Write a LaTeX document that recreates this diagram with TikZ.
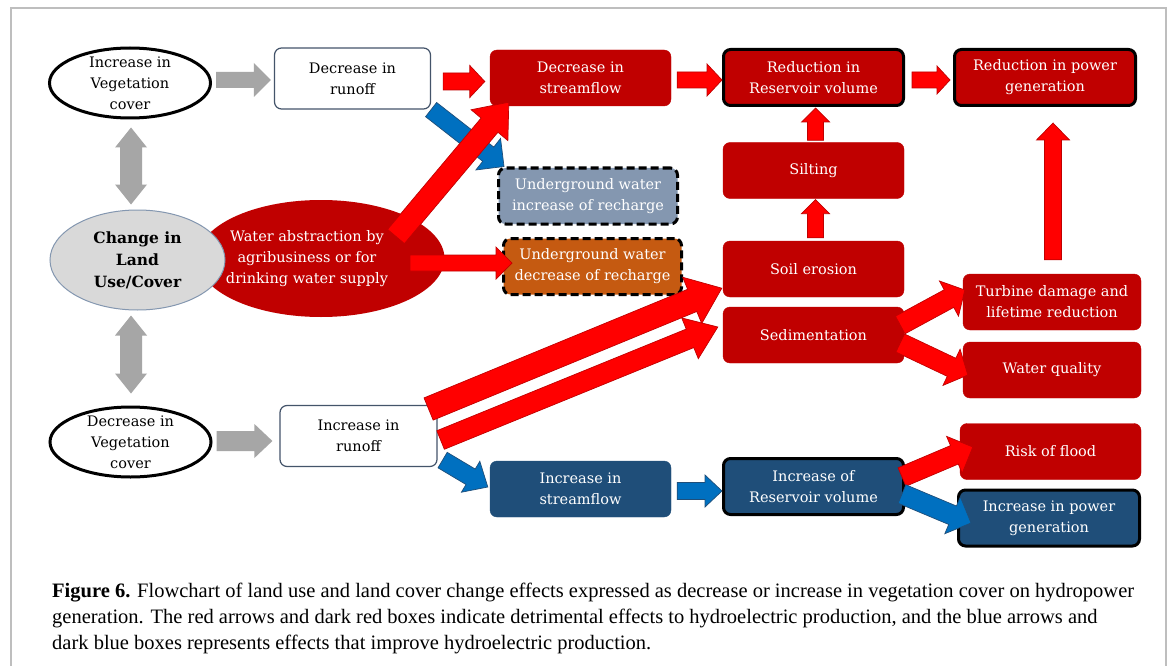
\documentclass[tikz,border=0pt]{standalone}
\usepackage{fontspec}
\setmainfont{DejaVu Serif}
\newfontfamily\capfont{Liberation Serif}
\usetikzlibrary{shapes.geometric,calc}
\definecolor{mydarkred}{RGB}{192,0,0}
\definecolor{myred}{RGB}{255,0,0}
\definecolor{mydarkblue}{RGB}{31,78,121}
\definecolor{myblue}{RGB}{0,112,192}
\definecolor{mygrayblue}{RGB}{132,151,176}
\definecolor{myorange}{RGB}{197,90,17}
\definecolor{mygray}{RGB}{166,166,166}
\definecolor{mylightgray}{RGB}{217,217,217}
\definecolor{myslate}{RGB}{68,84,106}
\definecolor{myframe}{RGB}{190,190,190}
\newcommand\boxfont{\fontsize{14.5}{21}\selectfont}
\newcommand\fatarrow[6][]{%
  \path (#2) coordinate (fa-a) (#3) coordinate (fa-b);
  \path ($(fa-b)!#6!(fa-a)$) coordinate (fa-n);
  \filldraw[#1] ($(fa-a)!#4!90:(fa-b)$) -- ($(fa-n)!#4!90:(fa-b)$)
    -- ($(fa-n)!#5!90:(fa-b)$) -- (fa-b) -- ($(fa-n)!#5!-90:(fa-b)$)
    -- ($(fa-n)!#4!-90:(fa-b)$) -- ($(fa-a)!#4!-90:(fa-b)$) -- cycle;}
\newcommand\dblarrow[6][]{%
  \path (#2) coordinate (fa-a) (#3) coordinate (fa-b);
  \path ($(fa-a)!#6!(fa-b)$) coordinate (fa-m) ($(fa-b)!#6!(fa-a)$) coordinate (fa-n);
  \filldraw[#1] (fa-a) -- ($(fa-m)!#5!90:(fa-b)$) -- ($(fa-m)!#4!90:(fa-b)$)
    -- ($(fa-n)!#4!-90:(fa-a)$) -- ($(fa-n)!#5!-90:(fa-a)$) -- (fa-b)
    -- ($(fa-n)!#5!90:(fa-a)$) -- ($(fa-n)!#4!90:(fa-a)$)
    -- ($(fa-m)!#4!-90:(fa-b)$) -- ($(fa-m)!#5!-90:(fa-b)$) -- cycle;}
\begin{document}
\begin{tikzpicture}[
  x=1pt, y=-1pt,
  box/.style={
    rectangle,
    rounded corners=7pt,
    inner sep=0pt,
    align=center,
    font=\boxfont,
    minimum width=181pt,
    minimum height=56pt
    },
  redbox/.style={box, fill=mydarkred, draw=mydarkred, text=white},
  bluebox/.style={box, fill=mydarkblue, draw=mydarkblue, text=white},
  whitebox/.style={
    box,
    fill=white,
    draw=myslate,
    line width=1.2pt,
    minimum width=156pt,
    minimum height=61pt
    },
  dashbox/.style={
    box,
    draw=black,
    line width=3pt,
    dash pattern=on 8pt off 4pt,
    text=white
    },
  thickrim/.style={draw=black, line width=3pt},
  vegoval/.style={
    ellipse,
    draw=black,
    line width=3pt,
    fill=white,
    minimum width=161pt,
    minimum height=70pt,
    inner xsep=0pt,
    inner ysep=-8pt,
    align=center,
    font=\boxfont
    },
  redarrow/.style={fill=myred, draw=mydarkred, line width=0.7pt},
  bluearrow/.style={fill=myblue, draw=mydarkblue, line width=0.7pt},
  grayarrow/.style={fill=mygray, draw=none}
]
\useasboundingbox[fill=white] (0,0) rectangle (1170,666);
\draw[myframe, line width=2pt] (11,666) -- (11,8) -- (1166,8) -- (1166,666);

\node[vegoval] (incV) at (130,83) {Increase in\\Vegetation\\cover};
\node[vegoval] (decV) at (130.5,442) {Decrease in\\Vegetation\\cover};
\node[ellipse, fill=mydarkred, minimum width=247pt, minimum height=117pt]
  (wab) at (321,258.5) {};
\node[ellipse, fill=mylightgray, draw=mygrayblue, line width=1pt,
  minimum width=175pt, minimum height=100pt, inner sep=0pt, align=center,
  font=\fontsize{15.5}{22}\selectfont\bfseries]
  (luc) at (137.5,260) {Change in\\Land\\Use/Cover};
\node[align=center, font=\boxfont, text=white, inner sep=0pt]
  (wabtext) at (307,259) {Water abstraction by\\agribusiness or for\\drinking water supply};

\node[whitebox] (decR) at (352.5,78.5) {Decrease in\\runoff};
\node[whitebox, minimum width=157pt] (incR) at (358.5,436) {Increase in\\runoff};
\node[redbox] (decS) at (580.5,78) {Decrease in\\streamflow};
\node[dashbox, fill=mygrayblue, minimum width=179pt] (ugI) at (588,196)
  {Underground water\\increase of recharge};
\node[dashbox, fill=myorange, minimum width=178pt] (ugD) at (592.5,266.5)
  {Underground water\\decrease of recharge};
\node[redbox, thickrim, minimum width=180pt] (resR) at (813.5,77.5)
  {Reduction in\\Reservoir volume};
\node[redbox, thickrim, minimum width=181pt] (powR) at (1045,77.5)
  {Reduction in power\\generation};
\node[redbox] (silt) at (813.5,170.5) {Silting};
\node[redbox] (soil) at (813.5,269) {Soil erosion};
\node[redbox] (sed) at (813.5,335) {Sedimentation};
\node[redbox, minimum width=178pt] (turb) at (1052,302)
  {Turbine damage and\\lifetime reduction};
\node[redbox, minimum width=178pt] (wq) at (1052,370) {Water quality};
\node[bluebox] (incS) at (580.5,489) {Increase in\\streamflow};
\node[bluebox, thickrim, minimum width=180pt] (resI) at (813.5,486.5)
  {Increase of\\Reservoir volume};
\node[redbox] (flood) at (1050.5,451.5) {Risk of flood};
\node[bluebox, thickrim, minimum width=181pt] (powI) at (1049,518)
  {Increase in power\\generation};

\fatarrow[grayarrow]{$(incV.east)+(4,-3)$}{$(decR.west)+(-3,1.5)$}{8pt}{17pt}{17pt}
\fatarrow[grayarrow]{$(decV.east)+(4,-1)$}{$(incR.west)+(-7,5)$}{10pt}{17pt}{18pt}
\dblarrow[grayarrow]{$(incV.south)+(1,8)$}{$(luc.north)+(-6.5,-5)$}{11pt}{16pt}{20pt}
\dblarrow[grayarrow]{$(luc.south)+(-6.5,5)$}{$(decV.north)+(0.5,-12)$}{11pt}{16pt}{20pt}

\fatarrow[bluearrow]{$(decR.south east)+(0,0)$}{$(ugI.north west)+(7,0)$}{9pt}{20pt}{20pt}
\fatarrow[redarrow]{$(decR.east)+(12,3)$}{$(decS.west)+(-5,3.5)$}{8.5pt}{16pt}{15pt}
\fatarrow[redarrow]{$(wab.center)+(75,-22)$}{$(decS.south west)+(19,-4)$}{11pt}{24pt}{30pt}
\fatarrow[redarrow]{$(wab.center)+(89,4.5)$}{$(ugD.west)+(10,-3.5)$}{8pt}{16pt}{16pt}
\fatarrow[redarrow]{$(decS.east)+(6,2)$}{$(resR.west)+(0,2.5)$}{8pt}{16pt}{15pt}
\fatarrow[redarrow]{$(resR.east)+(7,2.5)$}{$(powR.west)+(-3,2.5)$}{8pt}{14pt}{13pt}
\fatarrow[redarrow]{$(silt.north)+(2,-2)$}{$(resR.south)+(2,1)$}{8pt}{14pt}{14pt}
\fatarrow[redarrow]{$(soil.north)+(2,-3)$}{$(silt.south)+(2,1)$}{8pt}{14pt}{14pt}
\fatarrow[redarrow]{$(turb.north)+(1,-14)$}{$(powR.south)+(8,16)$}{8.5pt}{16.5pt}{17pt}
\fatarrow[redarrow]{$(incR.east)+(-9,-27)$}{$(soil.south west)+(-1,-9)$}{12pt}{25pt}{32pt}
\fatarrow[redarrow]{$(incR.east)+(3,4)$}{$(sed.west)+(-5,-8)$}{10pt}{22pt}{30pt}
\fatarrow[bluearrow]{$(incR.south east)+(5,-7)$}{$(incS.west)+(-2,-2)$}{9pt}{18pt}{20pt}
\fatarrow[bluearrow]{$(incS.east)+(6,2)$}{$(resI.west)+(0,4.5)$}{8.5pt}{16pt}{17pt}
\fatarrow[redarrow]{$(sed.east)+(-4,-10)$}{$(turb.west)+(2,-12)$}{10pt}{20pt}{18pt}
\fatarrow[redarrow]{$(sed.east)+(-4,8)$}{$(wq.west)+(5,5)$}{10pt}{20pt}{18pt}
\fatarrow[redarrow]{$(resI.east)+(-3,-9.5)$}{$(flood.west)+(13,-4.5)$}{10pt}{20pt}{20pt}
\fatarrow[bluearrow]{$(resI.east)+(-3,7.5)$}{$(powI.west)+(14,5)$}{10pt}{20pt}{20pt}

\node[anchor=north west, inner sep=0pt, align=left,
  font=\capfont\fontsize{20.5}{26}\selectfont]
  (caption) at (52,583) {\textbf{Figure 6.} Flowchart of land use and land cover change effects expressed as decrease or increase in vegetation cover on hydropower\\
generation. The red arrows and dark red boxes indicate detrimental effects to hydroelectric production, and the blue arrows and\\
dark blue boxes represents effects that improve hydroelectric production.};
\end{tikzpicture}
\end{document}
